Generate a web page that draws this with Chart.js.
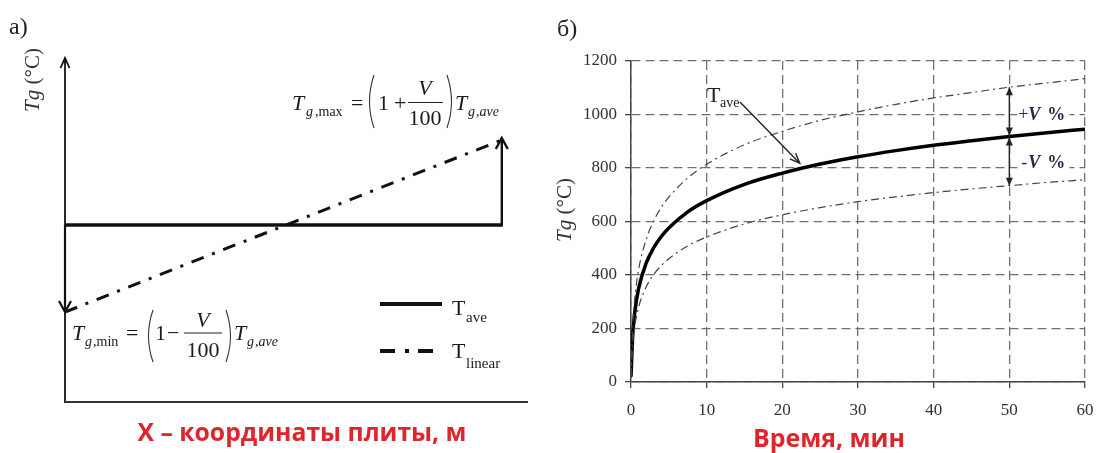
<!DOCTYPE html>
<html><head><meta charset="utf-8">
<script src="https://cdn.jsdelivr.net/npm/chart.js@4.4.1/dist/chart.umd.min.js"></script>
<style>
html,body{margin:0;padding:0;background:#fff;width:1096px;height:453px;overflow:hidden}
canvas{position:absolute;top:0}
</style></head>
<body>
<canvas id="left" width="548" height="453" style="left:0"></canvas>
<canvas id="right" width="548" height="453" style="left:548px"></canvas>
<script>
// ---------- Panel а): schematic slab temperature distribution ----------
const slabX = [0, 1];
const tAveSlab = [177, 177];
const tLinearSlab = [90, 262];

// ---------- Panel б): gas temperature vs time ----------
const timeMin = [0, 0.25, 0.5, 1, 2, 3, 4, 5, 7.5, 10, 15, 20, 25, 30, 35, 40, 45, 50, 55, 60];
const tAve    = [20, 185, 261, 349, 444, 502, 544, 576, 636, 678, 739, 781, 815, 842, 865, 885, 902, 918, 932, 945];
const tUpper  = [24, 222, 313, 419, 533, 602, 653, 691, 763, 814, 887, 937, 978, 1010, 1038, 1062, 1082, 1102, 1118, 1134];
const tLower  = [16, 148, 209, 279, 355, 402, 435, 461, 509, 542, 591, 625, 652, 674, 692, 708, 722, 734, 746, 756];
const xTicks = [0, 10, 20, 30, 40, 50, 60];
const yTicks = [0, 200, 400, 600, 800, 1000, 1200];

const SERIF = '"Liberation Serif", "DejaVu Serif", serif';
const SANS = '"Open Sans", "Liberation Sans", sans-serif';
const RED = '#e0242b';
const INK = '#1a1a1a';

function txt(ctx, s, x, y, font, align, color) {
  ctx.font = font; ctx.fillStyle = color || INK;
  ctx.textAlign = align || 'left'; ctx.textBaseline = 'alphabetic';
  ctx.fillText(s, x, y);
}
function mixed(ctx, parts, cx, y, color) {
  let w = 0;
  parts.forEach(p => { ctx.font = p[1]; w += ctx.measureText(p[0]).width; });
  let x = cx - w / 2;
  parts.forEach(p => { ctx.font = p[1]; ctx.fillStyle = color || INK; ctx.textAlign = 'left';
    ctx.textBaseline = 'alphabetic'; ctx.fillText(p[0], x, y); x += ctx.measureText(p[0]).width; });
}
function fitText(ctx, s, cx, y, targetW, weight, family, color) {
  let size = 30;
  ctx.font = weight + ' ' + size + 'px ' + family;
  size = size * targetW / ctx.measureText(s).width;
  txt(ctx, s, cx, y, weight + ' ' + size.toFixed(2) + 'px ' + family, 'center', color);
}
function seg(ctx, x1, y1, x2, y2, w, c) {
  ctx.beginPath(); ctx.moveTo(x1, y1); ctx.lineTo(x2, y2);
  ctx.lineWidth = w; ctx.strokeStyle = c; ctx.setLineDash([]); ctx.stroke();
}
function openHead(ctx, tx, ty, dx, dy, len, half, w, c) {
  const n = Math.hypot(dx, dy); dx /= n; dy /= n;
  const bx = tx - dx * len, by = ty - dy * len;
  ctx.beginPath();
  ctx.moveTo(bx - dy * half, by + dx * half); ctx.lineTo(tx, ty); ctx.lineTo(bx + dy * half, by - dx * half);
  ctx.lineWidth = w; ctx.strokeStyle = c; ctx.setLineDash([]); ctx.lineJoin = 'miter'; ctx.stroke();
}
function fillHead(ctx, tx, ty, dx, dy, len, half, c) {
  const n = Math.hypot(dx, dy); dx /= n; dy /= n;
  const bx = tx - dx * len, by = ty - dy * len;
  ctx.beginPath();
  ctx.moveTo(tx, ty); ctx.lineTo(bx - dy * half, by + dx * half); ctx.lineTo(bx + dy * half, by - dx * half);
  ctx.closePath(); ctx.fillStyle = c; ctx.fill();
}
function paren(ctx, x, top, bot, open) {
  ctx.beginPath();
  const w = 6, m = (top + bot) / 2;
  if (open) { ctx.moveTo(x + w, top); ctx.quadraticCurveTo(x - 3, m, x + w, bot); }
  else { ctx.moveTo(x, top); ctx.quadraticCurveTo(x + w + 3, m, x, bot); }
  ctx.lineWidth = 1.1; ctx.strokeStyle = '#333'; ctx.setLineDash([]); ctx.stroke();
}

// ---------- Left chart ----------
const leftDecor = {
  id: 'leftDecor',
  afterDatasetsDraw(chart) {
    const { ctx, chartArea: { left, right, top, bottom }, scales: { x, y } } = chart;
    ctx.save();
    const x0 = x.getPixelForValue(slabX[0]), x1 = x.getPixelForValue(slabX[1]);
    const yA = y.getPixelForValue(tAveSlab[0]);
    const yMin = y.getPixelForValue(tLinearSlab[0]), yMax = y.getPixelForValue(tLinearSlab[1]);
    // axes
    seg(ctx, left, bottom + 1, left, top, 1.8, '#111');
    openHead(ctx, left, top, 0, -1, 10, 4.5, 1.8, '#111');
    seg(ctx, left, bottom, right, bottom, 1.8, '#333');
    // deviation arrows
    seg(ctx, x0, yA, x0, yMin, 2.2, '#111');
    openHead(ctx, x0, yMin, 0, 1, 11, 6, 2.2, '#111');
    seg(ctx, x1, yA + 1.5, x1, yMax - 2, 2.4, '#111');
    openHead(ctx, x1, yMax - 2, 0, -1, 11, 6, 2.4, '#111');

    // panel letter and axis title
    txt(ctx, 'а)', 9, 34, '24px ' + SERIF, 'left', '#222');
    ctx.save(); ctx.translate(39, 80); ctx.rotate(-Math.PI / 2);
    mixed(ctx, [['Tg', 'italic 21px ' + SERIF], [' (°C)', '21px ' + SERIF]], 0, 0, '#333');
    ctx.restore();

    // Tg,max formula
    const F = '22px ' + SERIF, FI = 'italic 22px ' + SERIF, S = '14px ' + SERIF, SI = 'italic 14px ' + SERIF;
    txt(ctx, 'T', 292, 110, FI);
    txt(ctx, 'g', 306, 116, SI); txt(ctx, ',max', 315, 116, S);
    txt(ctx, '=', 351, 110, F);
    paren(ctx, 368, 75, 128, true);
    txt(ctx, '1', 378, 110, F);
    txt(ctx, '+', 394, 110, F);
    txt(ctx, 'V', 425, 95, FI, 'center');
    seg(ctx, 408, 102.5, 443, 102.5, 1.1, '#222');
    txt(ctx, '100', 425, 125, F, 'center');
    paren(ctx, 447, 75, 128, false);
    txt(ctx, 'T', 455, 110, FI);
    txt(ctx, 'g', 468, 116, SI); txt(ctx, ',ave', 476, 116, SI);

    // Tg,min formula
    txt(ctx, 'T', 72, 340, FI);
    txt(ctx, 'g', 85, 346, SI); txt(ctx, ',min', 93, 346, S);
    txt(ctx, '=', 126, 340, F);
    paren(ctx, 147, 310, 362, true);
    txt(ctx, '1', 155, 340, F);
    txt(ctx, '−', 167, 340, F);
    txt(ctx, 'V', 203, 327, FI, 'center');
    seg(ctx, 184, 333, 222, 333, 1.1, '#222');
    txt(ctx, '100', 203, 357, F, 'center');
    paren(ctx, 226, 310, 362, false);
    txt(ctx, 'T', 234, 340, FI);
    txt(ctx, 'g', 247, 346, SI); txt(ctx, ',ave', 255, 346, SI);

    // legend
    seg(ctx, 380, 304, 442, 304, 4, '#111');
    txt(ctx, 'T', 452, 315, F); txt(ctx, 'ave', 466, 322, '15px ' + SERIF);
    ctx.beginPath(); ctx.moveTo(380, 351); ctx.lineTo(434, 351);
    ctx.setLineDash([15, 10, 4, 9]); ctx.lineWidth = 4; ctx.strokeStyle = '#111'; ctx.stroke(); ctx.setLineDash([]);
    txt(ctx, 'T', 452, 358, F); txt(ctx, 'linear', 466, 368, '15px ' + SERIF);

    // x label
    fitText(ctx, 'X – координаты плиты, м', 302, 441, 329, 'bold', SANS, RED);
    ctx.restore();
  }
};

new Chart(document.getElementById('left'), {
  type: 'line',
  data: {
    datasets: [
      { label: 'Tave', data: slabX.map((v, i) => ({ x: v, y: tAveSlab[i] })), borderColor: '#111', borderWidth: 3.5, pointRadius: 0 },
      { label: 'Tlinear', data: slabX.map((v, i) => ({ x: v, y: tLinearSlab[i] })), borderColor: '#111', borderWidth: 3, borderDash: [13, 9, 3, 9], pointRadius: 0 }
    ]
  },
  options: {
    responsive: false, animation: false, devicePixelRatio: 1,
    layout: { padding: { left: 65, right: 20, top: 58, bottom: 51 } },
    plugins: { legend: { display: false }, tooltip: { enabled: false } },
    scales: {
      x: { type: 'linear', display: false, min: 0, max: 1.06 },
      y: { type: 'linear', display: false, min: 0, max: 344 }
    }
  },
  plugins: [leftDecor]
});

// ---------- Right chart ----------
const rightDecor = {
  id: 'rightDecor',
  afterDatasetsDraw(chart) {
    const { ctx, scales: { x, y } } = chart;
    ctx.save();
    txt(ctx, 'б)', 9, 36, '24px ' + SERIF, 'left', '#222');
    ctx.save(); ctx.translate(23, 210); ctx.rotate(-Math.PI / 2);
    mixed(ctx, [['Tg', 'italic 21px ' + SERIF], [' (°C)', '21px ' + SERIF]], 0, 0, '#333');
    ctx.restore();

    // Tave label with arrow
    txt(ctx, 'T', 159, 102, '22px ' + SERIF, 'left', '#222');
    txt(ctx, 'ave', 172, 107, '14px ' + SERIF, 'left', '#222');
    const ax1 = x.getPixelForValue(14.4), ay1 = y.getPixelForValue(1047);
    const ax2 = x.getPixelForValue(22.3), ay2 = y.getPixelForValue(818);
    seg(ctx, ax1, ay1, ax2, ay2, 1.4, '#222');
    openHead(ctx, ax2, ay2, ax2 - ax1, ay2 - ay1, 10, 4, 1.4, '#222');

    // ±V% arrows at t = 50
    const i50 = timeMin.indexOf(50);
    const vx = x.getPixelForValue(timeMin[i50]);
    const ya = y.getPixelForValue(tAve[i50]), yu = y.getPixelForValue(tUpper[i50]), yl = y.getPixelForValue(tLower[i50]);
    seg(ctx, vx, ya, vx, yu, 1.4, '#222');
    seg(ctx, vx, ya, vx, yl, 1.4, '#222');
    fillHead(ctx, vx, yu, 0, -1, 8, 3.5, '#222');
    fillHead(ctx, vx, ya - 1, 0, 1, 8, 3.5, '#222');
    fillHead(ctx, vx, ya + 1, 0, -1, 8, 3.5, '#222');
    fillHead(ctx, vx, yl, 0, 1, 8, 3.5, '#222');

    const C = '#1f2a48';
    const bx = vx + 8;
    ctx.fillStyle = '#fff';
    ctx.fillRect(bx, 106, 52, 18);
    ctx.fillRect(bx, 154, 52, 18);
    txt(ctx, '+', bx + 1, 120, '18px ' + SERIF, 'left', C);
    txt(ctx, 'V', bx + 11, 120, 'bold italic 18px ' + SERIF, 'left', C);
    txt(ctx, '%', bx + 30, 120, 'bold 18px ' + SERIF, 'left', C);
    txt(ctx, '-', bx + 4, 168, '18px ' + SERIF, 'left', C);
    txt(ctx, 'V', bx + 11, 168, 'bold italic 18px ' + SERIF, 'left', C);
    txt(ctx, '%', bx + 30, 168, 'bold 18px ' + SERIF, 'left', C);

    fitText(ctx, 'Время, мин', 829 - 548, 447, 152, 'bold', SANS, RED);
    ctx.restore();
  }
};

const tickFont = { family: SERIF, size: 17 };
const plain = v => String(v);
const curve = (arr) => timeMin.map((t, i) => ({ x: t, y: arr[i] }));
new Chart(document.getElementById('right'), {
  type: 'line',
  data: {
    datasets: [
      { label: 'Tave+V%', data: curve(tUpper), borderColor: '#444', borderWidth: 1.2, borderDash: [8, 4, 2, 4], pointRadius: 0, cubicInterpolationMode: 'monotone' },
      { label: 'Tave-V%', data: curve(tLower), borderColor: '#444', borderWidth: 1.2, borderDash: [8, 4, 2, 4], pointRadius: 0, cubicInterpolationMode: 'monotone' },
      { label: 'Tave', data: curve(tAve), borderColor: '#000', borderWidth: 3.5, pointRadius: 0, cubicInterpolationMode: 'monotone' }
    ]
  },
  options: {
    responsive: false, animation: false, devicePixelRatio: 1,
    layout: { padding: { left: 0, right: 11, top: 61, bottom: 0 } },
    plugins: { legend: { display: false }, tooltip: { enabled: false } },
    scales: {
      x: {
        type: 'linear', min: 0, max: 60,
        afterBuildTicks: s => { s.ticks = xTicks.map(v => ({ value: v })); },
        afterFit: s => { s.height = 71; s.paddingLeft = 0; s.paddingRight = 0; },
        ticks: { padding: 12, color: '#333', font: tickFont, maxRotation: 0, callback: plain },
        grid: { color: '#707070', lineWidth: 1.3, tickLength: 6, tickColor: '#444', tickWidth: 1.3 },
        border: { display: true, color: '#444', width: 1.5, dash: [9, 5] }
      },
      y: {
        type: 'linear', min: 0, max: 1200,
        afterBuildTicks: s => { s.ticks = yTicks.map(v => ({ value: v })); },
        afterFit: s => { s.width = 83; s.paddingTop = 0; s.paddingBottom = 0; },
        ticks: { padding: 8, color: '#333', font: tickFont, callback: plain },
        grid: { color: '#707070', lineWidth: 1.3, tickLength: 6, tickColor: '#444', tickWidth: 1.3 },
        border: { display: true, color: '#444', width: 1.5, dash: [9, 5] }
      }
    }
  },
  plugins: [rightDecor]
});
</script>
</body></html>
